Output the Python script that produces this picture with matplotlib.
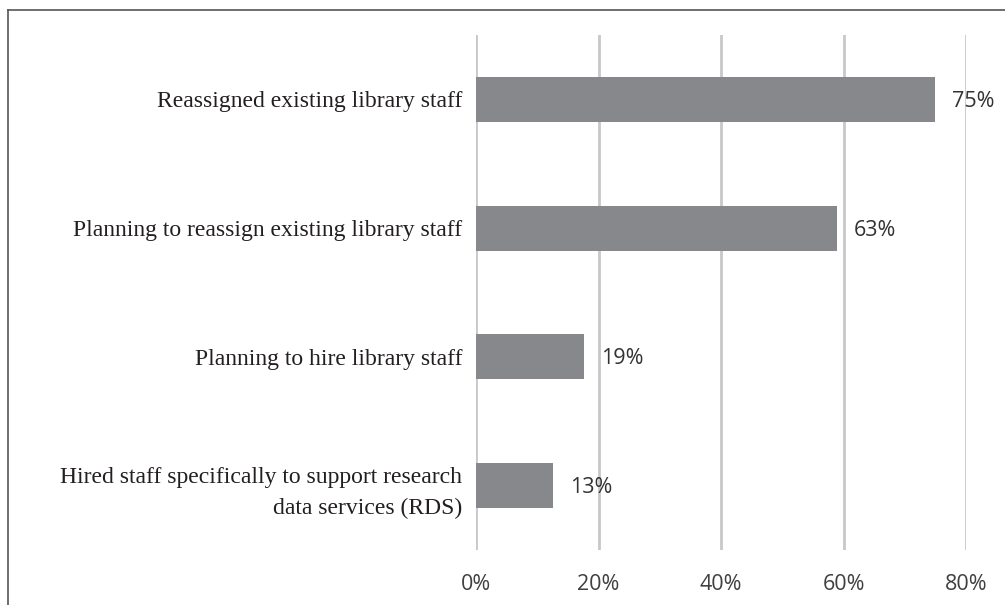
import matplotlib.pyplot as plt
from matplotlib.lines import Line2D

# -------------------------------------------------------
# Data
# -------------------------------------------------------

categories = [
    "Reassigned existing library staff",
    "Planning to reassign existing library staff",
    "Planning to hire library staff",
    "Hired staff specifically to support research\ndata services (RDS)",
]
# bar lengths as drawn in the picture (percent)
bar_values = [75, 59, 17.7, 12.6]
# value labels as printed next to the bars
value_labels = ["75%", "63%", "19%", "13%"]
x_ticks = [0, 20, 40, 60, 80]
x_tick_labels = ["0%", "20%", "40%", "60%", "80%"]

# -------------------------------------------------------
# Figure
# -------------------------------------------------------

fig = plt.figure(figsize=(10.05, 6.05), dpi=100)
ax = fig.add_axes([476 / 1005, 1 - 550 / 605, 490 / 1005, 515 / 605])

positions = list(range(len(categories)))
ax.barh(positions, bar_values, height=0.35, color="#87888c", zorder=3)

ax.set_xlim(0, 80)
ax.set_ylim(len(categories) - 0.5, -0.5)

ax.set_xticks(x_ticks)
ax.set_xticklabels(x_tick_labels, fontfamily="Open Sans", fontsize=15.5, color="#404040")
ax.set_yticks(positions)
ax.set_yticklabels(categories, fontfamily="Liberation Serif", fontsize=17,
                   color="#231f20", linespacing=1.6)
ax.tick_params(axis="x", length=0, pad=17)
ax.tick_params(axis="y", length=0, pad=10)

ax.grid(axis="x", color="#c8c8c8", linewidth=2, zorder=0)
ax.grid(axis="y", visible=False)
for spine in ax.spines.values():
    spine.set_visible(False)

for i, (value, label) in enumerate(zip(bar_values, value_labels)):
    ax.annotate(label, xy=(value, i), xytext=(12, -1.5), textcoords="offset points",
                ha="left", va="center", fontfamily="Open Sans", fontsize=15.5,
                color="#333333", zorder=4)

# frame lines (left and top)
fig.add_artist(Line2D([7.5 / 1005, 7.5 / 1005], [0, 1 - 9.5 / 605],
                      transform=fig.transFigure, color="#555555", linewidth=1.2))
fig.add_artist(Line2D([7.5 / 1005, 1], [1 - 9.5 / 605, 1 - 9.5 / 605],
                      transform=fig.transFigure, color="#555555", linewidth=1.2))

fig.savefig("out.png", dpi=100)
plt.close(fig)
